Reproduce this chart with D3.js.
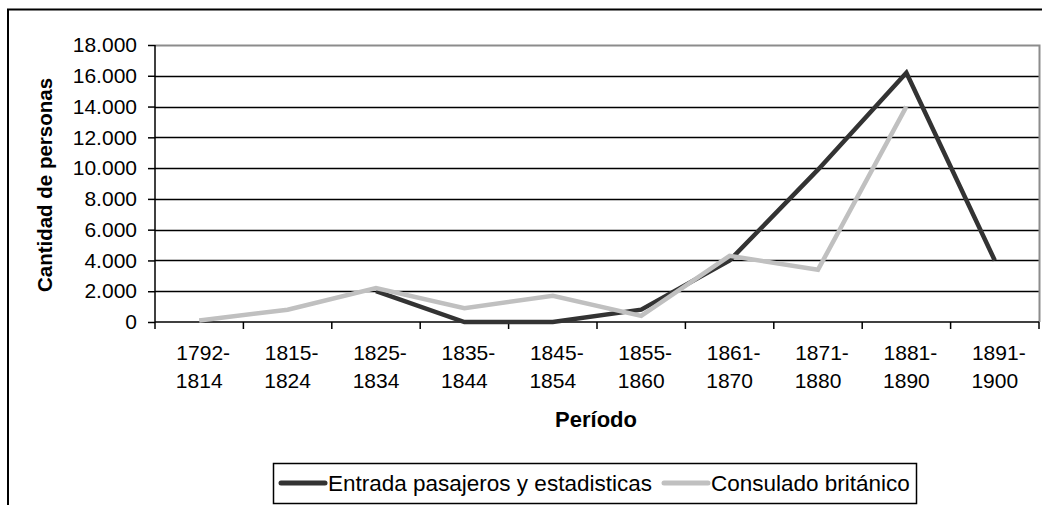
<!DOCTYPE html>
<html>
<head>
<meta charset="utf-8">
<script src="https://cdn.jsdelivr.net/npm/d3@7"></script>
<style>
  body { margin: 0; background: #fff; }
  svg { display: block; font-family: "Liberation Sans", Arial, sans-serif; }
</style>
</head>
<body>
<div id="chart"></div>
<script>
// periods (two-line labels)
var periods = ["1792-1814", "1815-1824", "1825-1834", "1835-1844", "1845-1854",
               "1855-1860", "1861-1870", "1871-1880", "1881-1890", "1891-1900"];
var entrada = [null, null, 2000, 0, 0, 800, 4000, 9900, 16200, 4000];
var consulado = [100, 800, 2200, 900, 1700, 400, 4300, 3400, 14000, null];
var yTicks = [0, 2000, 4000, 6000, 8000, 10000, 12000, 14000, 16000, 18000];
var seriesNames = ["Entrada pasajeros y estadisticas", "Consulado británico"];
var seriesColors = ["#333333", "#c0c0c0"];

var W = 1042, H = 505;
var plot = {left: 155, right: 1039, top: 45, bottom: 322};

var svg = d3.select("#chart").append("svg")
  .attr("width", W).attr("height", H);

// outer chart border (cut off on right and bottom)
svg.append("path")
  .attr("d", "M8," + H + "V9.5H" + (W + 5))
  .attr("fill", "none").attr("stroke", "#000").attr("stroke-width", 2);

var x = d3.scaleBand().domain(periods).range([plot.left, plot.right]).padding(0);
var y = d3.scaleLinear().domain([0, 18000]).range([plot.bottom, plot.top]);

var es = d3.formatLocale({decimal: ",", thousands: ".", grouping: [3], currency: ["", ""]});
var fmt = es.format(",d");

// gridlines
svg.append("g").selectAll("line")
  .data(yTicks.filter(function(d) { return d > 0 && d < 18000; }))
  .enter().append("line")
  .attr("x1", plot.left).attr("x2", plot.right)
  .attr("y1", function(d) { return Math.round(y(d)) + 0.5; })
  .attr("y2", function(d) { return Math.round(y(d)) + 0.5; })
  .attr("stroke", "#000").attr("stroke-width", 1.5);

// plot area border top/right (gray)
svg.append("path")
  .attr("d", "M" + plot.left + "," + (plot.top + 0.5) + "H" + (plot.right + 0.5) + "V" + plot.bottom)
  .attr("fill", "none").attr("stroke", "#8c8c8c").attr("stroke-width", 2);

// y axis
var yAxis = svg.append("g")
  .attr("transform", "translate(" + plot.left + ",0)")
  .call(d3.axisLeft(y).tickValues(yTicks).tickFormat(fmt).tickSize(7).tickPadding(11));
yAxis.selectAll("line, path").attr("stroke", "#000").attr("stroke-width", 1.5);
yAxis.select(".domain").attr("d", "M0," + plot.top + "V" + plot.bottom);
yAxis.selectAll("text").attr("font-size", 21).attr("fill", "#000")
  .attr("font-family", "Liberation Sans, Arial, sans-serif");

// x axis with ticks at category boundaries
var xg = svg.append("g").attr("transform", "translate(0," + plot.bottom + ")");
xg.append("line").attr("x1", plot.left).attr("x2", plot.right)
  .attr("stroke", "#000").attr("stroke-width", 1.5);
xg.selectAll(".tk").data(periods.concat(["end"])).enter().append("line")
  .attr("x1", function(d, i) { return plot.left + i * x.bandwidth(); })
  .attr("x2", function(d, i) { return plot.left + i * x.bandwidth(); })
  .attr("y1", 0).attr("y2", 7)
  .attr("stroke", "#000").attr("stroke-width", 1.5);
var lbl = xg.selectAll(".lbl").data(periods).enter().append("text")
  .attr("text-anchor", "middle").attr("font-size", 21).attr("fill", "#000")
  .attr("transform", function(d) { return "translate(" + (x(d) + x.bandwidth() / 2) + ",0)"; });
lbl.append("tspan").attr("x", 4).attr("y", 38).text(function(d) { return d.split("-")[0] + "-"; });
lbl.append("tspan").attr("x", 0).attr("y", 66).text(function(d) { return d.split("-")[1]; });

// axis titles
svg.append("text")
  .attr("x", 596).attr("y", 427)
  .attr("text-anchor", "middle").attr("font-size", 22).attr("font-weight", "bold")
  .text("Período");
svg.append("text")
  .attr("transform", "translate(52,185) rotate(-90)")
  .attr("text-anchor", "middle").attr("font-size", 20.5).attr("font-weight", "bold")
  .text("Cantidad de personas");

// lines
var line = d3.line()
  .defined(function(d) { return d != null; })
  .x(function(d, i) { return x(periods[i]) + x.bandwidth() / 2; })
  .y(function(d) { return y(d); });

[entrada, consulado].forEach(function(s, k) {
  svg.append("path")
    .datum(s)
    .attr("d", line)
    .attr("fill", "none")
    .attr("stroke", seriesColors[k])
    .attr("stroke-width", 4.5)
    .attr("stroke-linejoin", "miter");
});

// legend
var lg = svg.append("g");
lg.append("rect").attr("x", 273.5).attr("y", 463.5).attr("width", 643).attr("height", 40)
  .attr("fill", "#fff").attr("stroke", "#000").attr("stroke-width", 1.5);
var legendX = [281, 664];
seriesNames.forEach(function(n, k) {
  lg.append("line").attr("x1", legendX[k]).attr("x2", legendX[k] + 44)
    .attr("y1", 483).attr("y2", 483)
    .attr("stroke", seriesColors[k]).attr("stroke-width", 5).attr("stroke-linecap", "round");
  lg.append("text").attr("x", legendX[k] + 47).attr("y", 491)
    .attr("font-size", 22.5).text(n);
});
</script>
</body>
</html>
